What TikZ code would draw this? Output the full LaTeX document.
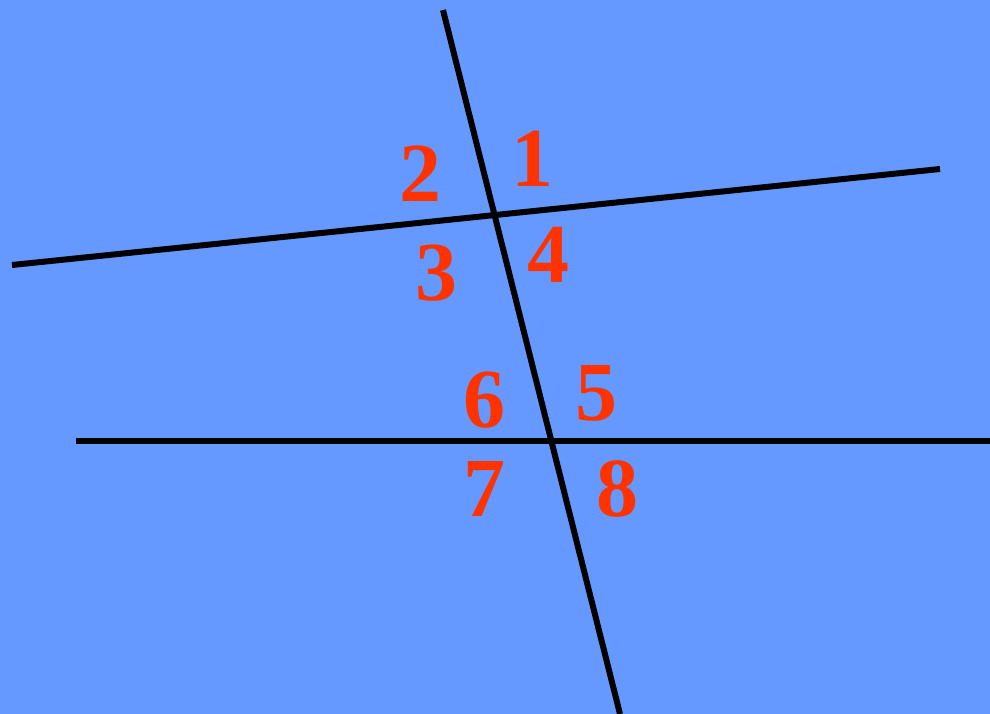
\documentclass[tikz,border=0pt]{standalone}
\usepackage{fontspec}
\setmainfont{Liberation Serif}
\definecolor{bg}{HTML}{6699FF}
\definecolor{numred}{HTML}{FF3300}
\begin{document}
\begin{tikzpicture}[x=1pt,y=-1pt,
  ln/.style={line width=6pt,black},
  num/.style={text=numred,font=\fontsize{84}{84}\selectfont\bfseries,inner sep=0pt}]
\fill[bg] (0,0) rectangle (990,714);
\useasboundingbox (0,0) rectangle (990,714);
\coordinate (tA) at (443,10);
\coordinate (tB) at (620,714);
\coordinate (uA) at (12,265);
\coordinate (uB) at (940,169);
\coordinate (hA) at (76,441);
\coordinate (hB) at (990,441);
\draw[ln] (tA) -- (tB);
\draw[ln] (uA) -- (uB);
\draw[ln] (hA) -- (hB);
\node[num] (n1) at (532,159) {1};
\node[num] (n2) at (420,174) {2};
\node[num] (n3) at (436,273) {3};
\node[num] (n4) at (548,255) {4};
\node[num] (n5) at (596,393) {5};
\node[num] (n6) at (484,400) {6};
\node[num] (n7) at (484,489) {7};
\node[num] (n8) at (617,489) {8};
\end{tikzpicture}
\end{document}
